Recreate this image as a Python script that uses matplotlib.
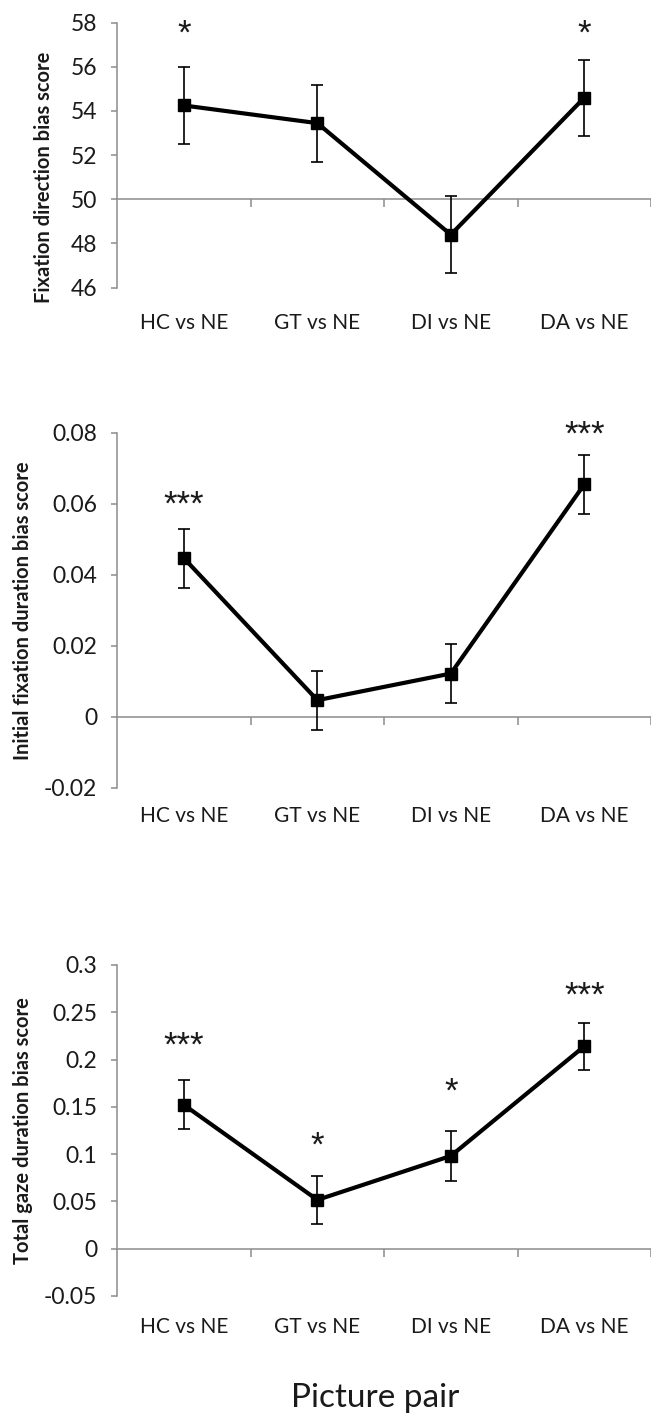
import matplotlib
matplotlib.use("Agg")
import matplotlib.pyplot as plt
from matplotlib.ticker import FuncFormatter
import matplotlib.transforms as mtransforms
import numpy as np

plt.rcParams['font.family'] = ['Lato', 'DejaVu Sans']
plt.rcParams['axes.unicode_minus'] = False

# picture pairs on the x axis
categories = ["HC vs NE", "GT vs NE", "DI vs NE", "DA vs NE"]

# fixation direction bias
direction_mean = [54.25, 53.45, 48.4, 54.6]
direction_err = [1.75, 1.75, 1.75, 1.72]
direction_sig = ["*", "", "", "*"]

# initial fixation duration bias
initial_mean = [0.0447, 0.0047, 0.0122, 0.0655]
initial_err = [0.0083, 0.0083, 0.0082, 0.0083]
initial_sig = ["***", "", "", "***"]

# total gaze duration bias
total_mean = [0.152, 0.0515, 0.098, 0.214]
total_err = [0.026, 0.025, 0.026, 0.025]
total_sig = ["***", "*", "*", "***"]

panels = [
    dict(mean=direction_mean, err=direction_err, sig=direction_sig,
         label="Fixation direction bias score", ylim=(46, 58), step=2, base=50,
         rect=[0.180, 0.797, 0.820, 0.187], star_off=[1.95, 0, 0, 1.65],
         label_pos=(-0.118, 0.415), label_y=0.772),
    dict(mean=initial_mean, err=initial_err, sig=initial_sig,
         label="Initial fixation duration bias score", ylim=(-0.02, 0.08), step=0.02, base=0,
         rect=[0.180, 0.444, 0.820, 0.2505], star_off=[0.0095, 0, 0, 0.0085],
         label_pos=(-0.158, 0.5), label_y=0.424),
    dict(mean=total_mean, err=total_err, sig=total_sig,
         label="Total gaze duration bias score", ylim=(-0.05, 0.3), step=0.05, base=0,
         rect=[0.180, 0.0855, 0.820, 0.2335], star_off=[0.047, 0.043, 0.052, 0.039],
         label_pos=(-0.158, 0.5), label_y=0.0635),
]

fig = plt.figure(figsize=(6.51, 14.17), dpi=100)
grey = "#8c8c8c"
ink = "#1a1a1a"
x = np.arange(len(categories))
star_size = 25

for p in panels:
    ax = fig.add_axes(p["rect"])
    ax.errorbar(x, p["mean"], yerr=p["err"], color="black", lw=3.0,
                marker="s", markersize=8.5, ecolor="black", elinewidth=1.2,
                capsize=4, capthick=1.2, zorder=3)
    lo, hi = p["ylim"]
    ax.set_ylim(lo, hi)
    ax.set_xlim(-0.5, 3.5)
    ax.set_yticks(np.arange(lo, hi + p["step"] / 2, p["step"]))
    ax.yaxis.set_major_formatter(FuncFormatter(lambda v, pos: "%g" % round(v, 4)))
    for side in ["top", "right"]:
        ax.spines[side].set_visible(False)
    ax.spines["left"].set_color(grey)
    ax.spines["left"].set_linewidth(1.1)
    ax.spines["bottom"].set_position(("data", p["base"]))
    ax.spines["bottom"].set_color(grey)
    ax.spines["bottom"].set_linewidth(1.1)
    ax.tick_params(axis="y", colors=grey, length=4.5, width=1.1, labelsize=16.5,
                   labelcolor=ink, pad=10)
    ax.set_xticks([])
    ax.set_xticks(np.arange(0.5, 4, 1), minor=True)
    ax.tick_params(axis="x", which="minor", colors=grey, length=6, width=1.1,
                   direction="out", labelbottom=False)
    ax.set_ylabel(p["label"], fontsize=14.5, fontweight="bold", color=ink)
    ax.yaxis.set_label_coords(*p["label_pos"])

    # category labels below the axes
    trans = mtransforms.blended_transform_factory(ax.transData, fig.transFigure)
    for xi, name in zip(x, categories):
        ax.text(xi, p["label_y"], name, transform=trans, ha="center", va="center",
                fontsize=15, color=ink)

    # significance stars, glyph centred on the data position
    star_trans = mtransforms.offset_copy(ax.transData, fig=fig, y=-0.57 * star_size,
                                         units="points")
    for xi, m, e, s, off in zip(x, p["mean"], p["err"], p["sig"], p["star_off"]):
        if s:
            ax.text(xi, m + e + off, s, transform=star_trans, ha="center",
                    va="baseline", fontsize=star_size, family="Liberation Sans",
                    color=ink, clip_on=False)

fig.text(0.576, 0.0134, "Picture pair", ha="center", va="center", fontsize=24,
         color=ink)

fig.savefig("out.png", dpi=100)
